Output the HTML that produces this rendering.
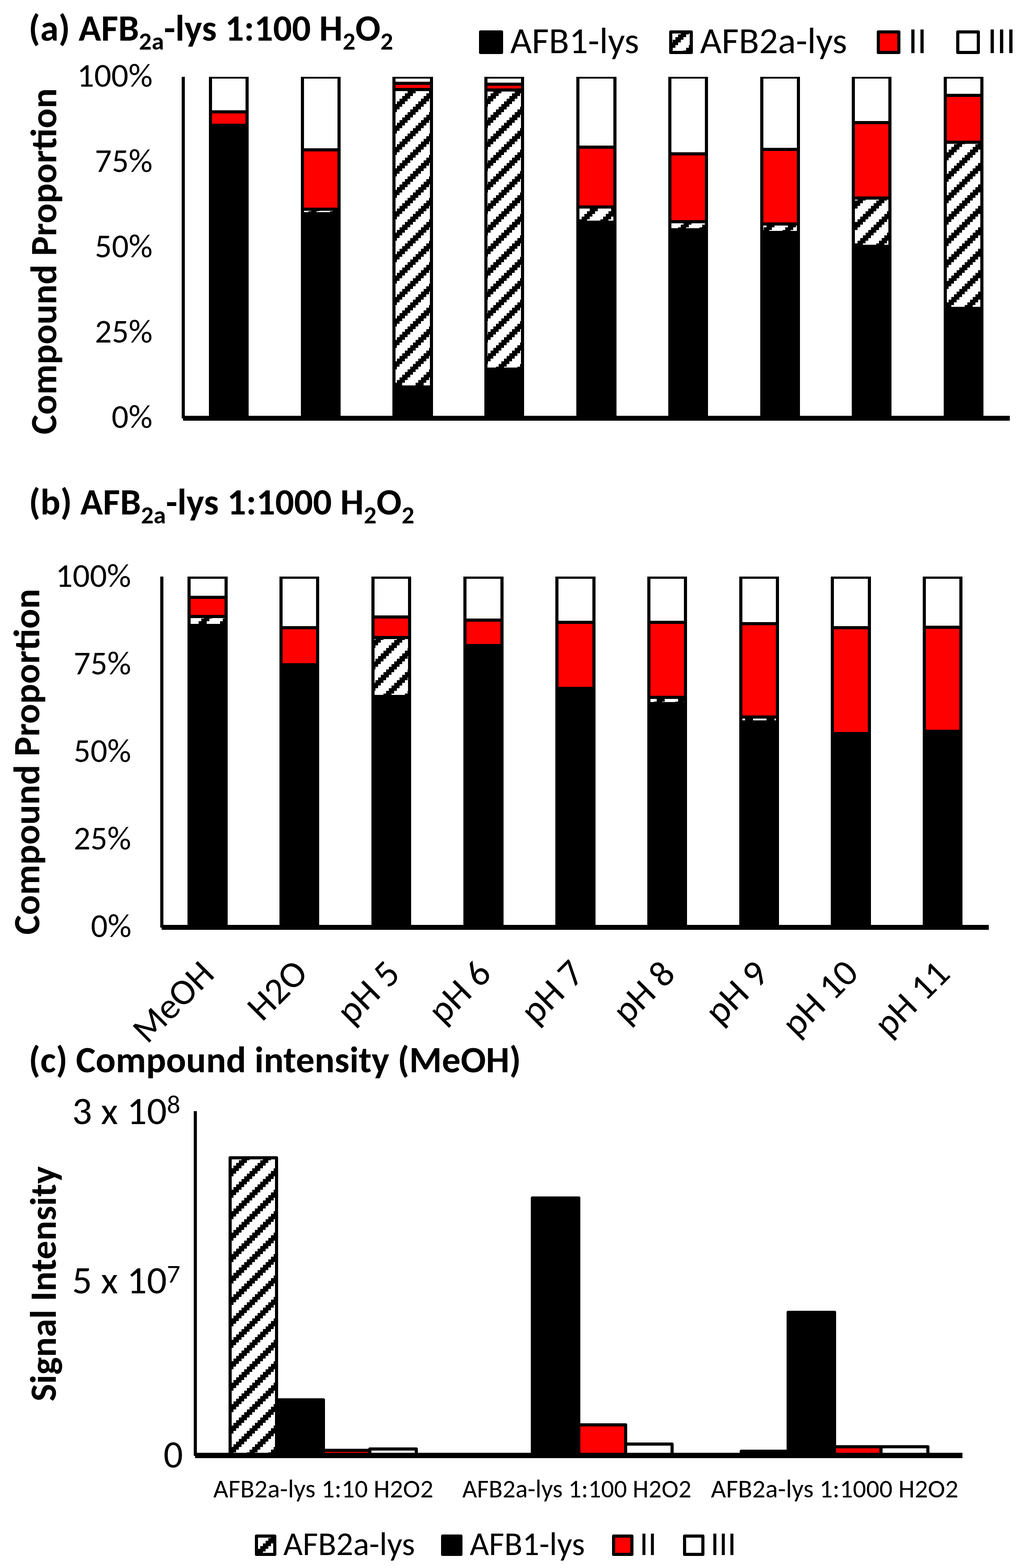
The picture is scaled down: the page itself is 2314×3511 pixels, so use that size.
<!DOCTYPE html><html><head><meta charset="utf-8"><style>html,body{margin:0;padding:0;background:#fff;}svg{display:block;}text{font-family:Carlito, 'Liberation Sans', sans-serif;fill:#000;}</style></head><body>
<svg width="2314" height="3511" viewBox="0 0 2314 3511">
<defs>
<pattern id="hA" patternUnits="userSpaceOnUse" x="1" y="5" width="48" height="48"><rect width="48" height="48" fill="#fff"/><g fill="#000"><rect x="6" y="0" width="6" height="6"/><rect x="12" y="0" width="6" height="6"/><rect x="18" y="0" width="6" height="6"/><rect x="0" y="6" width="6" height="6"/><rect x="6" y="6" width="6" height="6"/><rect x="12" y="6" width="6" height="6"/><rect x="0" y="12" width="6" height="6"/><rect x="6" y="12" width="6" height="6"/><rect x="42" y="12" width="6" height="6"/><rect x="0" y="18" width="6" height="6"/><rect x="36" y="18" width="6" height="6"/><rect x="42" y="18" width="6" height="6"/><rect x="30" y="24" width="6" height="6"/><rect x="36" y="24" width="6" height="6"/><rect x="42" y="24" width="6" height="6"/><rect x="24" y="30" width="6" height="6"/><rect x="30" y="30" width="6" height="6"/><rect x="36" y="30" width="6" height="6"/><rect x="18" y="36" width="6" height="6"/><rect x="24" y="36" width="6" height="6"/><rect x="30" y="36" width="6" height="6"/><rect x="12" y="42" width="6" height="6"/><rect x="18" y="42" width="6" height="6"/><rect x="24" y="42" width="6" height="6"/></g></pattern>
<pattern id="hC" patternUnits="userSpaceOnUse" x="1" y="6" width="48" height="48"><rect width="48" height="48" fill="#fff"/><g fill="#000"><rect x="6" y="0" width="6" height="6"/><rect x="12" y="0" width="6" height="6"/><rect x="18" y="0" width="6" height="6"/><rect x="0" y="6" width="6" height="6"/><rect x="6" y="6" width="6" height="6"/><rect x="12" y="6" width="6" height="6"/><rect x="0" y="12" width="6" height="6"/><rect x="6" y="12" width="6" height="6"/><rect x="42" y="12" width="6" height="6"/><rect x="0" y="18" width="6" height="6"/><rect x="36" y="18" width="6" height="6"/><rect x="42" y="18" width="6" height="6"/><rect x="30" y="24" width="6" height="6"/><rect x="36" y="24" width="6" height="6"/><rect x="42" y="24" width="6" height="6"/><rect x="24" y="30" width="6" height="6"/><rect x="30" y="30" width="6" height="6"/><rect x="36" y="30" width="6" height="6"/><rect x="18" y="36" width="6" height="6"/><rect x="24" y="36" width="6" height="6"/><rect x="30" y="36" width="6" height="6"/><rect x="12" y="42" width="6" height="6"/><rect x="18" y="42" width="6" height="6"/><rect x="24" y="42" width="6" height="6"/></g></pattern>
<clipPath id="clipA"><rect x="0" y="172" width="2314" height="800"/></clipPath>
<clipPath id="clipB"><rect x="0" y="1291" width="2314" height="800"/></clipPath>
</defs>
<rect width="2314" height="3511" fill="#fff"/>
<g clip-path="url(#clipA)">
<rect x="471.5" y="280.5" width="82" height="656.0" fill="#000" stroke="#000" stroke-width="7"/><rect x="471.5" y="250.5" width="82" height="30.0" fill="#f00" stroke="#000" stroke-width="7"/><rect x="471.5" y="172.5" width="82" height="78.0" fill="#fff" stroke="#000" stroke-width="7"/>
<rect x="677.5" y="478.5" width="82" height="458.0" fill="#000" stroke="#000" stroke-width="7"/><rect x="677.5" y="468.5" width="82" height="10.0" fill="url(#hA)" stroke="#000" stroke-width="7"/><rect x="677.5" y="335.5" width="82" height="133.0" fill="#f00" stroke="#000" stroke-width="7"/><rect x="677.5" y="172.5" width="82" height="163.0" fill="#fff" stroke="#000" stroke-width="7"/>
<rect x="882.5" y="866.5" width="84" height="70.0" fill="#000" stroke="#000" stroke-width="7"/><rect x="882.5" y="200.5" width="84" height="666.0" fill="url(#hA)" stroke="#000" stroke-width="7"/><rect x="882.5" y="186.5" width="84" height="14.0" fill="#f00" stroke="#000" stroke-width="7"/><rect x="882.5" y="172.5" width="84" height="14.0" fill="#fff" stroke="#000" stroke-width="7"/>
<rect x="1088.5" y="826.5" width="82" height="110.0" fill="#000" stroke="#000" stroke-width="7"/><rect x="1088.5" y="201.5" width="82" height="625.0" fill="url(#hA)" stroke="#000" stroke-width="7"/><rect x="1088.5" y="188.5" width="82" height="13.0" fill="#f00" stroke="#000" stroke-width="7"/><rect x="1088.5" y="172.5" width="82" height="16.0" fill="#fff" stroke="#000" stroke-width="7"/>
<rect x="1294.5" y="497.5" width="83" height="439.0" fill="#000" stroke="#000" stroke-width="7"/><rect x="1294.5" y="463.5" width="83" height="34.0" fill="url(#hA)" stroke="#000" stroke-width="7"/><rect x="1294.5" y="329.5" width="83" height="134.0" fill="#f00" stroke="#000" stroke-width="7"/><rect x="1294.5" y="172.5" width="83" height="157.0" fill="#fff" stroke="#000" stroke-width="7"/>
<rect x="1500.5" y="514.5" width="82" height="422.0" fill="#000" stroke="#000" stroke-width="7"/><rect x="1500.5" y="496.5" width="82" height="18.0" fill="url(#hA)" stroke="#000" stroke-width="7"/><rect x="1500.5" y="344.5" width="82" height="152.0" fill="#f00" stroke="#000" stroke-width="7"/><rect x="1500.5" y="172.5" width="82" height="172.0" fill="#fff" stroke="#000" stroke-width="7"/>
<rect x="1706.5" y="520.5" width="82" height="416.0" fill="#000" stroke="#000" stroke-width="7"/><rect x="1706.5" y="501.5" width="82" height="19.0" fill="url(#hA)" stroke="#000" stroke-width="7"/><rect x="1706.5" y="334.5" width="82" height="167.0" fill="#f00" stroke="#000" stroke-width="7"/><rect x="1706.5" y="172.5" width="82" height="162.0" fill="#fff" stroke="#000" stroke-width="7"/>
<rect x="1911.5" y="551.5" width="82" height="385.0" fill="#000" stroke="#000" stroke-width="7"/><rect x="1911.5" y="443.5" width="82" height="108.0" fill="url(#hA)" stroke="#000" stroke-width="7"/><rect x="1911.5" y="274.5" width="82" height="169.0" fill="#f00" stroke="#000" stroke-width="7"/><rect x="1911.5" y="172.5" width="82" height="102.0" fill="#fff" stroke="#000" stroke-width="7"/>
<rect x="2117.5" y="690.5" width="82" height="246.0" fill="#000" stroke="#000" stroke-width="7"/><rect x="2117.5" y="318.5" width="82" height="372.0" fill="url(#hA)" stroke="#000" stroke-width="7"/><rect x="2117.5" y="213.5" width="82" height="105.0" fill="#f00" stroke="#000" stroke-width="7"/><rect x="2117.5" y="172.5" width="82" height="41.0" fill="#fff" stroke="#000" stroke-width="7"/>
</g>
<rect x="407" y="172" width="7" height="765" fill="#000"/>
<rect x="410" y="931" width="1852" height="11" fill="#000"/>
<g clip-path="url(#clipB)">
<rect x="423.5" y="1400.5" width="83" height="676.0" fill="#000" stroke="#000" stroke-width="7"/><rect x="423.5" y="1380.5" width="83" height="20.0" fill="url(#hA)" stroke="#000" stroke-width="7"/><rect x="423.5" y="1337.5" width="83" height="43.0" fill="#f00" stroke="#000" stroke-width="7"/><rect x="423.5" y="1292.5" width="83" height="45.0" fill="#fff" stroke="#000" stroke-width="7"/>
<rect x="629.5" y="1488.5" width="82" height="588.0" fill="#000" stroke="#000" stroke-width="7"/><rect x="629.5" y="1405.5" width="82" height="83.0" fill="#f00" stroke="#000" stroke-width="7"/><rect x="629.5" y="1292.5" width="82" height="113.0" fill="#fff" stroke="#000" stroke-width="7"/>
<rect x="835.5" y="1559.5" width="82" height="517.0" fill="#000" stroke="#000" stroke-width="7"/><rect x="835.5" y="1427.5" width="82" height="132.0" fill="url(#hA)" stroke="#000" stroke-width="7"/><rect x="835.5" y="1381.5" width="82" height="46.0" fill="#f00" stroke="#000" stroke-width="7"/><rect x="835.5" y="1292.5" width="82" height="89.0" fill="#fff" stroke="#000" stroke-width="7"/>
<rect x="1041.5" y="1445.5" width="83" height="631.0" fill="#000" stroke="#000" stroke-width="7"/><rect x="1041.5" y="1388.5" width="83" height="57.0" fill="#f00" stroke="#000" stroke-width="7"/><rect x="1041.5" y="1292.5" width="83" height="96.0" fill="#fff" stroke="#000" stroke-width="7"/>
<rect x="1247.5" y="1541.5" width="83" height="535.0" fill="#000" stroke="#000" stroke-width="7"/><rect x="1247.5" y="1393.5" width="83" height="148.0" fill="#f00" stroke="#000" stroke-width="7"/><rect x="1247.5" y="1292.5" width="83" height="101.0" fill="#fff" stroke="#000" stroke-width="7"/>
<rect x="1453.5" y="1575.5" width="82" height="501.0" fill="#000" stroke="#000" stroke-width="7"/><rect x="1453.5" y="1561.5" width="82" height="14.0" fill="url(#hA)" stroke="#000" stroke-width="7"/><rect x="1453.5" y="1393.5" width="82" height="168.0" fill="#f00" stroke="#000" stroke-width="7"/><rect x="1453.5" y="1292.5" width="82" height="101.0" fill="#fff" stroke="#000" stroke-width="7"/>
<rect x="1659.5" y="1616.5" width="82" height="460.0" fill="#000" stroke="#000" stroke-width="7"/><rect x="1659.5" y="1605.5" width="82" height="11.0" fill="url(#hA)" stroke="#000" stroke-width="7"/><rect x="1659.5" y="1396.5" width="82" height="209.0" fill="#f00" stroke="#000" stroke-width="7"/><rect x="1659.5" y="1292.5" width="82" height="104.0" fill="#fff" stroke="#000" stroke-width="7"/>
<rect x="1864.5" y="1642.5" width="83" height="434.0" fill="#000" stroke="#000" stroke-width="7"/><rect x="1864.5" y="1405.5" width="83" height="237.0" fill="#f00" stroke="#000" stroke-width="7"/><rect x="1864.5" y="1292.5" width="83" height="113.0" fill="#fff" stroke="#000" stroke-width="7"/>
<rect x="2070.5" y="1637.5" width="82" height="439.0" fill="#000" stroke="#000" stroke-width="7"/><rect x="2070.5" y="1404.5" width="82" height="233.0" fill="#f00" stroke="#000" stroke-width="7"/><rect x="2070.5" y="1292.5" width="82" height="112.0" fill="#fff" stroke="#000" stroke-width="7"/>
</g>
<rect x="359" y="1291" width="7" height="786" fill="#000"/>
<rect x="362" y="2071" width="1853" height="11" fill="#000"/>
<rect x="515.5" y="2592.5" width="104.0" height="666.5" fill="url(#hC)" stroke="#000" stroke-width="7" stroke-linejoin="round"/>
<rect x="619.5" y="3134.5" width="105.0" height="124.5" fill="#000" stroke="#000" stroke-width="7" stroke-linejoin="round"/>
<rect x="724.5" y="3247.5" width="104.0" height="11.5" fill="#f00" stroke="#000" stroke-width="7" stroke-linejoin="round"/>
<rect x="828.5" y="3244.5" width="104.0" height="14.5" fill="#fff" stroke="#000" stroke-width="7" stroke-linejoin="round"/>
<rect x="1192.5" y="2682.5" width="104.0" height="576.5" fill="#000" stroke="#000" stroke-width="7" stroke-linejoin="round"/>
<rect x="1296.5" y="3190.5" width="105.0" height="68.5" fill="#f00" stroke="#000" stroke-width="7" stroke-linejoin="round"/>
<rect x="1401.5" y="3233.5" width="104.0" height="25.5" fill="#fff" stroke="#000" stroke-width="7" stroke-linejoin="round"/>
<rect x="1660.5" y="3249.5" width="105.0" height="9.5" fill="url(#hC)" stroke="#000" stroke-width="7" stroke-linejoin="round"/>
<rect x="1765.5" y="2938.5" width="104.0" height="320.5" fill="#000" stroke="#000" stroke-width="7" stroke-linejoin="round"/>
<rect x="1869.5" y="3239.5" width="104.0" height="19.5" fill="#f00" stroke="#000" stroke-width="7" stroke-linejoin="round"/>
<rect x="1973.5" y="3239.5" width="105.0" height="19.5" fill="#fff" stroke="#000" stroke-width="7" stroke-linejoin="round"/>
<rect x="434" y="2488" width="7" height="772" fill="#000"/>
<rect x="437" y="3253" width="1719" height="12" fill="#000"/>
<rect x="1076.5" y="71.5" width="47" height="46" fill="#000" stroke="#000" stroke-width="7" stroke-linejoin="round"/>
<rect x="1502.5" y="71.5" width="46" height="46" fill="url(#hA)" stroke="#000" stroke-width="7" stroke-linejoin="round"/>
<rect x="1967.5" y="71.5" width="46" height="46" fill="#f00" stroke="#000" stroke-width="7" stroke-linejoin="round"/>
<rect x="2145.5" y="71.5" width="46" height="46" fill="#fff" stroke="#000" stroke-width="7" stroke-linejoin="round"/>
<rect x="574.5" y="3439.5" width="41" height="41" fill="url(#hC)" stroke="#000" stroke-width="7" stroke-linejoin="round"/>
<rect x="991.5" y="3439.5" width="41" height="41" fill="#000" stroke="#000" stroke-width="7" stroke-linejoin="round"/>
<rect x="1374.5" y="3439.5" width="41" height="41" fill="#f00" stroke="#000" stroke-width="7" stroke-linejoin="round"/>
<rect x="1533.5" y="3439.5" width="41" height="41" fill="#fff" stroke="#000" stroke-width="7" stroke-linejoin="round"/>
<text x="64.00" y="90.80" font-size="82.0" font-weight="bold" textLength="816.73" lengthAdjust="spacingAndGlyphs">(a) AFB<tspan dy="20" font-size="55">2a</tspan><tspan dy="-20">-lys 1:100 H</tspan><tspan dy="20" font-size="55">2</tspan><tspan dy="-20">O</tspan><tspan dy="20" font-size="55">2</tspan></text>
<text x="64.40" y="1151.80" font-size="82.0" font-weight="bold" textLength="863.72" lengthAdjust="spacingAndGlyphs">(b) AFB<tspan dy="20" font-size="55">2a</tspan><tspan dy="-20">-lys 1:1000 H</tspan><tspan dy="20" font-size="55">2</tspan><tspan dy="-20">O</tspan><tspan dy="20" font-size="55">2</tspan></text>
<text x="64.20" y="2400.90" font-size="82.0" font-weight="bold" textLength="1102.93" lengthAdjust="spacingAndGlyphs">(c) Compound intensity (MeOH)</text>
<text x="1143.00" y="118.60" font-size="82.0" textLength="288.55" lengthAdjust="spacingAndGlyphs">AFB1-lys</text>
<text x="1568.20" y="118.60" font-size="82.0" textLength="329.32" lengthAdjust="spacingAndGlyphs">AFB2a-lys</text>
<text x="2034.80" y="118.60" font-size="82.0" textLength="40.83" lengthAdjust="spacingAndGlyphs">II</text>
<text x="2212.30" y="118.60" font-size="82.0" textLength="62.59" lengthAdjust="spacingAndGlyphs">III</text>
<text x="172.50" y="194.00" font-size="73.5" textLength="169.41" lengthAdjust="spacingAndGlyphs">100%</text>
<text x="124.50" y="1314.40" font-size="73.5" textLength="169.21" lengthAdjust="spacingAndGlyphs">100%</text>
<text x="212.50" y="385.10" font-size="73.5" textLength="129.26" lengthAdjust="spacingAndGlyphs">75%</text>
<text x="165.00" y="1510.25" font-size="73.5" textLength="128.65" lengthAdjust="spacingAndGlyphs">75%</text>
<text x="212.50" y="576.20" font-size="73.5" textLength="129.26" lengthAdjust="spacingAndGlyphs">50%</text>
<text x="165.00" y="1706.10" font-size="73.5" textLength="128.65" lengthAdjust="spacingAndGlyphs">50%</text>
<text x="212.50" y="767.30" font-size="73.5" textLength="129.26" lengthAdjust="spacingAndGlyphs">25%</text>
<text x="165.00" y="1901.95" font-size="73.5" textLength="128.65" lengthAdjust="spacingAndGlyphs">25%</text>
<text x="250.00" y="958.40" font-size="73.5" textLength="91.50" lengthAdjust="spacingAndGlyphs">0%</text>
<text x="203.50" y="2097.80" font-size="73.5" textLength="90.90" lengthAdjust="spacingAndGlyphs">0%</text>
<text transform="translate(126.00,972.80) rotate(-90)" font-size="82.0" font-weight="bold" textLength="775.00" lengthAdjust="spacingAndGlyphs">Compound Proportion</text>
<text transform="translate(88.40,2093.00) rotate(-90)" font-size="82.0" font-weight="bold" textLength="774.60" lengthAdjust="spacingAndGlyphs">Compound Proportion</text>
<text transform="translate(124.70,3138.00) rotate(-90)" font-size="82.0" font-weight="bold" textLength="526.56" lengthAdjust="spacingAndGlyphs">Signal Intensity</text>
<text x="161.40" y="2516.60" font-size="86.0" textLength="242.50" lengthAdjust="spacingAndGlyphs">3 x 10<tspan dy="-24" font-size="58">8</tspan></text>
<text x="161.40" y="2896.30" font-size="86.0" textLength="242.50" lengthAdjust="spacingAndGlyphs">5 x 10<tspan dy="-24" font-size="58">7</tspan></text>
<text x="366.20" y="3286.00" font-size="86.0" textLength="43.60" lengthAdjust="spacingAndGlyphs">0</text>
<text x="477.80" y="3352.50" font-size="56.5" textLength="492.97" lengthAdjust="spacingAndGlyphs">AFB2a-lys 1:10 H2O2</text>
<text x="1035.40" y="3352.50" font-size="56.5" textLength="513.29" lengthAdjust="spacingAndGlyphs">AFB2a-lys 1:100 H2O2</text>
<text x="1592.60" y="3352.50" font-size="56.5" textLength="554.24" lengthAdjust="spacingAndGlyphs">AFB2a-lys 1:1000 H2O2</text>
<text x="634.80" y="3481.70" font-size="73.6" textLength="294.81" lengthAdjust="spacingAndGlyphs">AFB2a-lys</text>
<text x="1052.20" y="3481.70" font-size="73.6" textLength="258.06" lengthAdjust="spacingAndGlyphs">AFB1-lys</text>
<text x="1433.00" y="3481.70" font-size="73.6" textLength="37.78" lengthAdjust="spacingAndGlyphs">II</text>
<text x="1591.80" y="3481.70" font-size="73.6" textLength="57.23" lengthAdjust="spacingAndGlyphs">III</text>
<text transform="translate(484.00,2185.00) rotate(-45)" font-size="81.91054544774495" text-anchor="end" textLength="218.14" lengthAdjust="spacingAndGlyphs">MeOH</text>
<text transform="translate(693.50,2183.00) rotate(-45)" font-size="83.24064471108369" text-anchor="end" textLength="150.57" lengthAdjust="spacingAndGlyphs">H2O</text>
<text transform="translate(900.00,2185.00) rotate(-45)" font-size="83.45506248950646" text-anchor="end" textLength="159.08" lengthAdjust="spacingAndGlyphs">pH 5</text>
<text transform="translate(1104.50,2184.00) rotate(-45)" font-size="83.20750704327496" text-anchor="end" textLength="158.61" lengthAdjust="spacingAndGlyphs">pH 6</text>
<text transform="translate(1313.00,2184.00) rotate(-45)" font-size="83.98306602139007" text-anchor="end" textLength="160.08" lengthAdjust="spacingAndGlyphs">pH 7</text>
<text transform="translate(1516.50,2185.00) rotate(-45)" font-size="82.55151046111817" text-anchor="end" textLength="157.41" lengthAdjust="spacingAndGlyphs">pH 8</text>
<text transform="translate(1726.00,2185.00) rotate(-45)" font-size="84.01184808203858" text-anchor="end" textLength="160.14" lengthAdjust="spacingAndGlyphs">pH 9</text>
<text transform="translate(1927.00,2183.00) rotate(-45)" font-size="83.00151515842984" text-anchor="end" textLength="201.03" lengthAdjust="spacingAndGlyphs">pH 10</text>
<text transform="translate(2132.00,2184.50) rotate(-45)" font-size="82.3022721563901" text-anchor="end" textLength="199.35" lengthAdjust="spacingAndGlyphs">pH 11</text>
</svg></body></html>
